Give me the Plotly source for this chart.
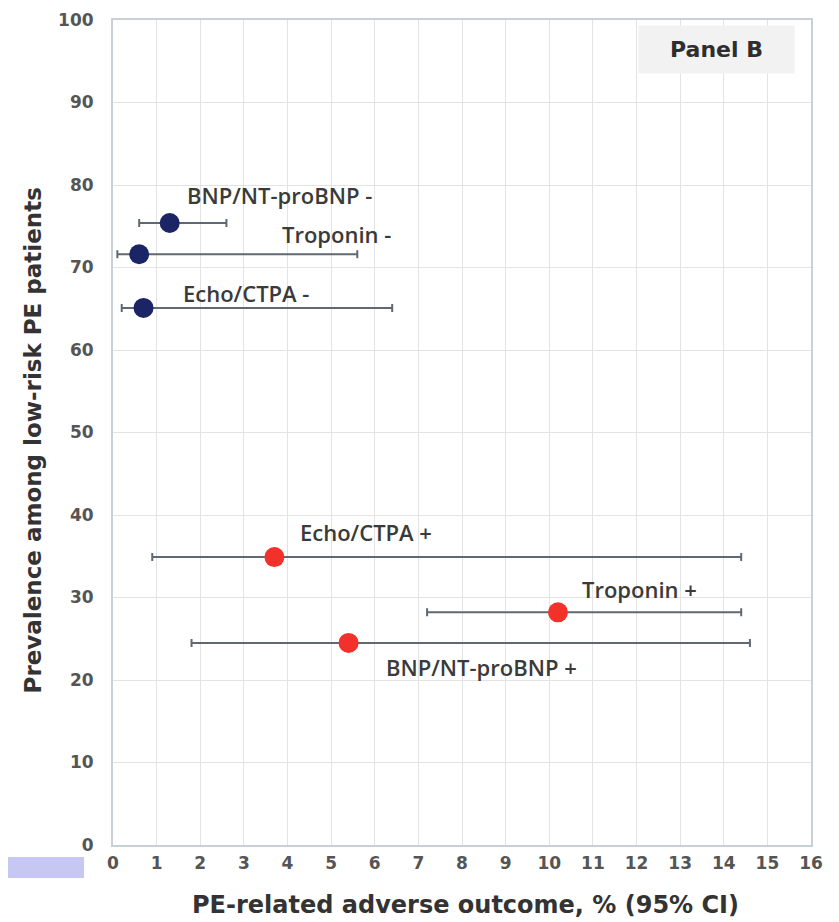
import plotly.graph_objects as go

# ---- data ----
labels = ["BNP/NT-proBNP -", "Troponin -", "Echo/CTPA -",
          "Echo/CTPA +", "Troponin +", "BNP/NT-proBNP +"]
outcome = [1.3, 0.6, 0.7, 3.7, 10.2, 5.4]
ci_low = [0.6, 0.1, 0.2, 0.9, 7.2, 1.8]
ci_high = [2.6, 5.6, 6.4, 14.4, 14.4, 14.6]
prevalence = [75.4, 71.6, 65.1, 34.9, 28.2, 24.5]
group = ["neg", "neg", "neg", "pos", "pos", "pos"]

x_ticks = list(range(0, 17))
y_ticks = list(range(0, 101, 10))

# ---- style ----
colors = {"neg": "#1b2465", "pos": "#f2312a"}
label_shift = [(110, 28), (197, 20), (102, 15), (92, 25), (82, 23), (133, -24)]

fig = go.Figure()
for g in ["neg", "pos"]:
    idx = [i for i, v in enumerate(group) if v == g]
    fig.add_trace(go.Scatter(
        x=[outcome[i] for i in idx],
        y=[prevalence[i] for i in idx],
        mode="markers",
        marker=dict(size=20, color=colors[g]),
        error_x=dict(type="data", symmetric=False,
                     array=[ci_high[i] - outcome[i] for i in idx],
                     arrayminus=[outcome[i] - ci_low[i] for i in idx],
                     color="#5f6873", thickness=2, width=4),
        showlegend=False,
        hoverinfo="skip",
    ))

for i, lab in enumerate(labels):
    dx, dy = label_shift[i]
    fig.add_annotation(x=outcome[i], y=prevalence[i], text=lab, showarrow=False,
                       xshift=dx, yshift=dy, xanchor="center", yanchor="middle",
                       font=dict(family="Open Sans", size=22, color="#3a3a3a", weight=600))

fig.add_annotation(x=0.865, y=0.964, xref="paper", yref="paper", text="<b>Panel B</b>",
                   showarrow=False, bgcolor="#f2f2f2", width=153, height=45,
                   xanchor="center", yanchor="middle",
                   font=dict(family="DejaVu Sans", size=22, color="#2e2e2e"))

fig.add_annotation(x=-0.115, y=0.49, xref="paper", yref="paper",
                   text="<b>Prevalence among low-risk PE patients</b>", textangle=-90,
                   showarrow=False, xanchor="center", yanchor="middle",
                   font=dict(family="DejaVu Sans", size=23, color="#333333"))
fig.add_annotation(x=0.505, y=-0.073, xref="paper", yref="paper",
                   text="<b>PE-related adverse outcome, % (95% CI)</b>",
                   showarrow=False, xanchor="center", yanchor="middle",
                   font=dict(family="DejaVu Sans", size=24, color="#333333"))

fig.add_shape(type="rect", xref="paper", yref="paper",
              x0=-0.16, x1=-0.0415, y0=-0.0145, y1=-0.04,
              fillcolor="#c6c8f3", line=dict(width=0))

fig.update_xaxes(range=[0, 16], tickvals=x_ticks, showgrid=True, gridcolor="#e3e3e3",
                 showline=True, linecolor="#c9d0d8", linewidth=2, mirror=True,
                 ticks="", zeroline=False, ticklabelstandoff=2, automargin=False,
                 tickfont=dict(family="DejaVu Sans", size=17, color="#555555", weight="bold"))
fig.update_yaxes(range=[0, 100], tickvals=y_ticks, showgrid=True, gridcolor="#e3e3e3",
                 showline=True, linecolor="#c9d0d8", linewidth=2, mirror=True,
                 ticks="", zeroline=False, ticklabelstandoff=14, automargin=False,
                 tickfont=dict(family="DejaVu Sans", size=17, color="#555555", weight="bold"))

fig.update_layout(width=831, height=914, margin=dict(l=105, r=28, t=12, b=77),
                  plot_bgcolor="white", paper_bgcolor="white")

fig.write_html("out.html")
